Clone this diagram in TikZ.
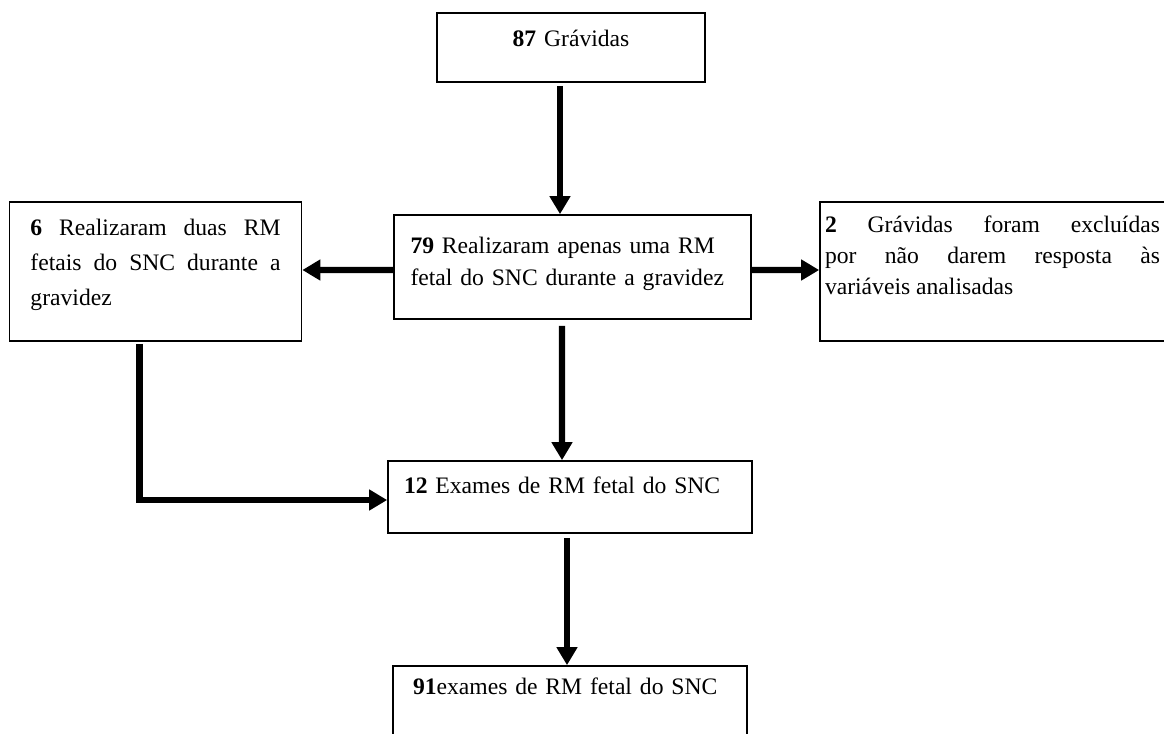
\documentclass[tikz,border=0pt]{standalone}
\usepackage{fontspec}
\setmainfont{Liberation Serif}
\usepackage{tikz}
\usetikzlibrary{arrows.meta,positioning,calc}

% one justified line of a box
\newcommand{\jline}[1]{\makebox[\hsize][s]{#1}}

\begin{document}
\begin{tikzpicture}[
    box/.style={rectangle, draw=black, line width=1.2pt, inner ysep=0pt, align=left},
    arr/.style={-{Triangle[length=0.45cm,width=0.5cm]}, line width=4.3pt}
]
\useasboundingbox (0,0) rectangle (29.1,-18.325);

% Boxes
\node[box, align=center, inner xsep=0pt, text width=6.7cm, text height=0.825cm, text depth=0.9cm,
      font=\fontsize{16.8}{22.8}\selectfont] (grav) at (14.275,-1.1875) {\textbf{87} Grávidas};

\node[box, inner xsep=0.4125cm, text width=8.1cm, text height=0.95cm, text depth=1.65cm,
      font=\fontsize{16.8}{22.8}\selectfont] (uma) at (14.3125,-6.675)
      {\textbf{79} Realizaram apenas uma RM\\fetal do SNC durante a gravidez};

\node[box, align=justify, inner xsep=0.525cm, text width=6.25cm, text height=0.825cm, text depth=2.65cm,
      font=\fontsize{16.8}{24.9}\selectfont] (duas) at (3.8875,-6.7875)
      {\jline{\textbf{6} Realizaram duas RM}\\\jline{fetais do SNC durante a}\\gravidez};

\node[box, align=justify, inner xsep=0.125cm, text width=8.375cm, text height=0.75cm, text depth=2.725cm,
      font=\fontsize{16.8}{22.4}\selectfont] (excl) at (24.8125,-6.7875)
      {\jline{\textbf{2} Grávidas foram excluídas}\\\jline{por não darem resposta às}\\variáveis analisadas};

\node[box, inner xsep=0.4cm, text width=8.3cm, text height=0.8cm, text depth=1cm,
      font=\fontsize{16.8}{22.8}\selectfont] (doze) at (14.25,-12.425)
      {\textbf{12} Exames de RM fetal do SNC};

\node[box, inner xsep=0.5cm, text width=7.85cm, text height=0.7cm, text depth=1.55cm,
      font=\fontsize{16.8}{22.8}\selectfont] (total) at (14.25,-17.775)
      {\textbf{91}exames de RM fetal do SNC};

% Arrows
\draw[arr, shorten <=0.075cm] ([xshift=-0.275cm]grav.south) -- ([xshift=-0.3125cm]uma.north);
\draw[arr] ([yshift=-0.075cm]uma.west) -- ([yshift=0.0375cm]duas.east);
\draw[arr] ([yshift=-0.075cm]uma.east) -- ([yshift=0.0375cm]excl.west);
\draw[arr, shorten <=0.15cm] ([xshift=-0.2625cm]uma.south) -- ([xshift=-0.2cm]doze.north);
\draw[arr, shorten <=0.05cm] ([xshift=-0.4cm]duas.south) |- ([yshift=-0.075cm]doze.west);
\draw[arr, shorten <=0.1cm] ([xshift=-0.075cm]doze.south) -- ([xshift=-0.075cm]total.north);

\end{tikzpicture}
\end{document}
